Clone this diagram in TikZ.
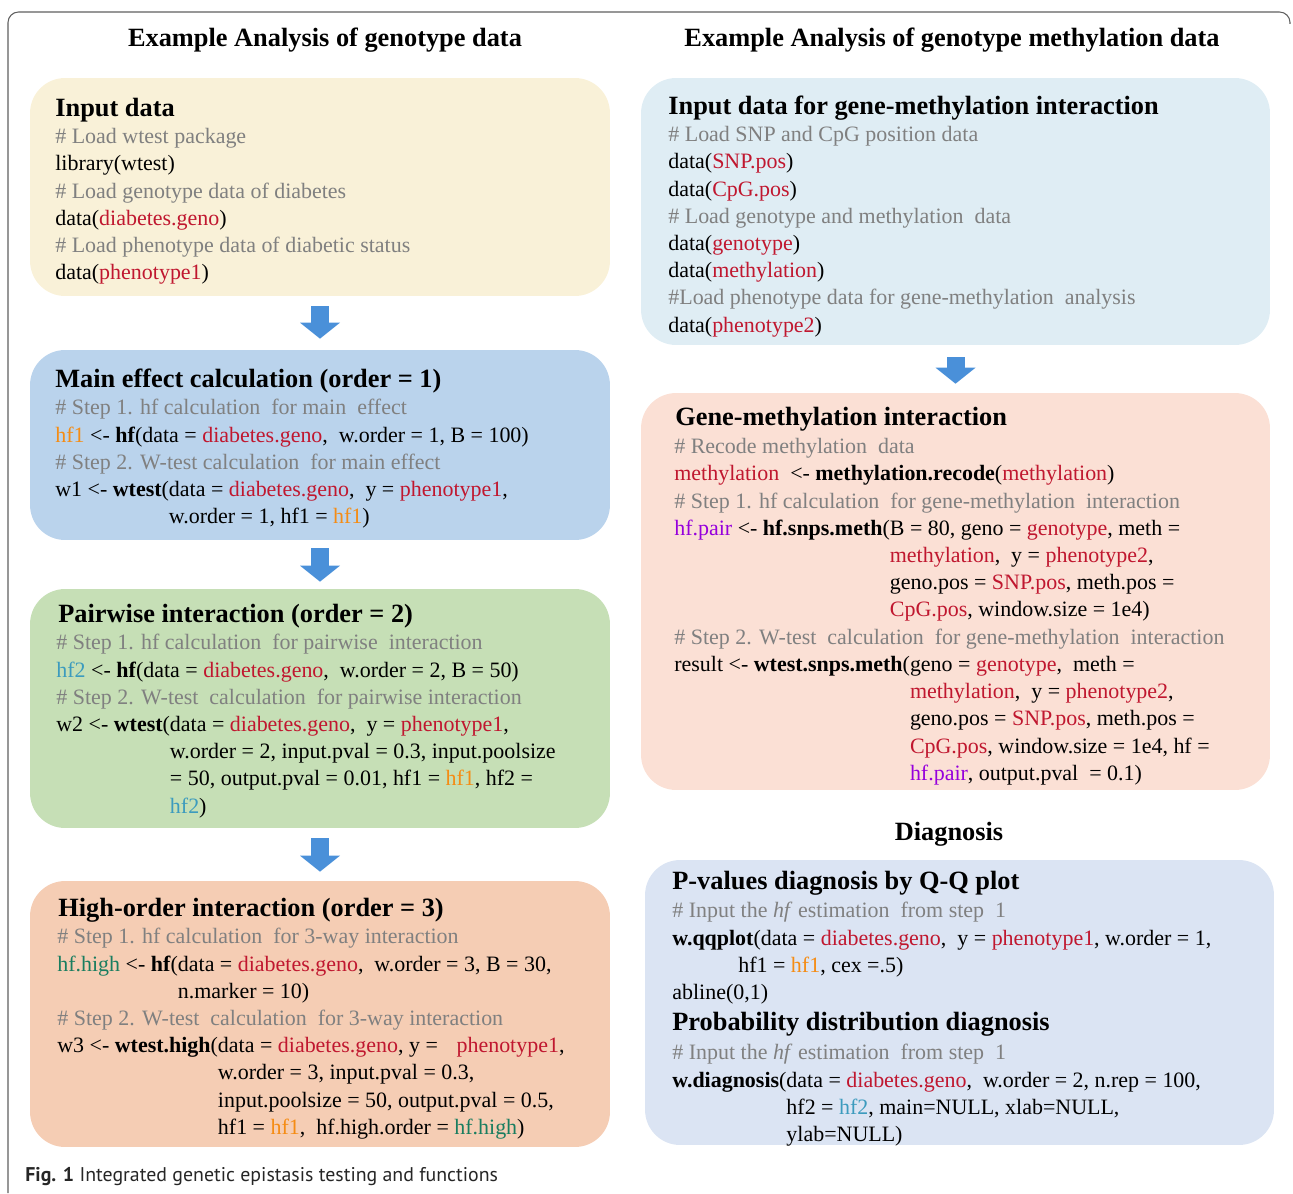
\documentclass[tikz,border=0pt]{standalone}
\usepackage{fontspec}
\setmainfont{Liberation Serif}
\newfontfamily\capfont{PT Sans}
\usepackage{tikz}
\usetikzlibrary{arrows.meta}
\definecolor{varred}{RGB}{192,23,47}
\definecolor{varorange}{RGB}{245,140,20}
\definecolor{varteal}{RGB}{60,155,190}
\definecolor{vargreen}{RGB}{25,125,95}
\definecolor{varpurple}{RGB}{150,0,220}
\definecolor{cmntgray}{RGB}{128,128,128}
\definecolor{arrowblue}{RGB}{74,144,217}
\definecolor{framegray}{RGB}{95,95,95}
\definecolor{inyellow}{RGB}{249,241,216}
\definecolor{mainblue}{RGB}{186,211,236}
\definecolor{pairgreen}{RGB}{198,223,182}
\definecolor{highorange}{RGB}{245,205,180}
\definecolor{methinblue}{RGB}{223,237,244}
\definecolor{methpink}{RGB}{251,224,213}
\definecolor{diaglilac}{RGB}{219,228,243}
\newcommand{\vred}[1]{\textcolor{varred}{#1}}
\newcommand{\vorg}[1]{\textcolor{varorange}{#1}}
\newcommand{\vteal}[1]{\textcolor{varteal}{#1}}
\newcommand{\vgrn}[1]{\textcolor{vargreen}{#1}}
\newcommand{\vpur}[1]{\textcolor{varpurple}{#1}}
\newcommand{\cmnt}[1]{\textcolor{cmntgray}{#1}}
\begin{document}
\begin{tikzpicture}[x=0.02cm,y=-0.02cm,
	code box/.style={rectangle,rounded corners=0.7cm,inner sep=0pt},
	left box/.style={code box,minimum width=11.6cm},
	right box/.style={code box,minimum width=12.58cm},
	box title/.style={anchor=base west,inner sep=0pt,font=\fontsize{15}{18}\selectfont\bfseries},
	code text/.style={anchor=north west,inner sep=0pt,align=left,font=\fontsize{12.5}{15.5}\selectfont,execute at begin node=\strut},
	head text/.style={anchor=base,inner sep=0pt,font=\fontsize{15}{18}\selectfont\bfseries},
	flow arrow/.style={draw=arrowblue,line width=0.36cm,-{Triangle[width=0.8cm,length=0.32cm,line width=0pt]}}]
	\useasboundingbox (0,0) rectangle (1293,1193);
	\draw[framegray,line width=0.6pt,rounded corners=6pt] (8,1193) -- (8,12) -- (1290,12) -- (1290,24);
	% column heads
	\node[head text] (lefthead) at (325,47) {Example Analysis of genotype data};
	\node[head text] (righthead) at (952,47) {Example Analysis of genotype methylation data};
	\node[head text] (diaghead) at (949,840) {Diagnosis};
	% genotype data
	\node[left box,fill=inyellow,minimum height=4.36cm] (inbox) at (320,187) {};
	\node[box title] (intitle) at (55,116) {Input data};
	\node[code text] (incode) at (55,128) {\cmnt{\# Load wtest package}\\
		library(wtest)\\
		\cmnt{\# Load genotype data of diabetes}\\
		data(\vred{diabetes.geno})\\
		\cmnt{\# Load phenotype data of diabetic status}\\
		data(\vred{phenotype1})};
	\node[left box,fill=mainblue,minimum height=3.8cm] (mainbox) at (320,445) {};
	\node[box title] (maintitle) at (55,387) {Main effect calculation (order = 1)};
	\node[code text] (maincode) at (55,399) {\cmnt{\# Step 1. hf calculation \ for main \ effect}\\
		\vorg{hf1} <- \textbf{hf}(data = \vred{diabetes.geno}, \ w.order = 1, B = 100)\\
		\cmnt{\# Step 2. W-test calculation \ for main effect}\\
		w1 <- \textbf{wtest}(data = \vred{diabetes.geno}, \ y = \vred{phenotype1},\\
		\phantom{w1 <- \textbf{wtest}(}w.order = 1, hf1 = \vorg{hf1})};
	\node[left box,fill=pairgreen,minimum height=4.78cm] (pairbox) at (320,708.5) {};
	\node[box title] (pairtitle) at (58,622) {Pairwise interaction (order = 2)};
	\node[code text] (paircode) at (56,634) {\cmnt{\# Step 1. hf calculation \ for pairwise \ interaction}\\
		\vteal{hf2} <- \textbf{hf}(data = \vred{diabetes.geno}, \ w.order = 2, B = 50)\\
		\cmnt{\# Step 2. W-test \ calculation \ for pairwise interaction}\\
		w2 <- \textbf{wtest}(data = \vred{diabetes.geno}, \ y = \vred{phenotype1},\\
		\phantom{w2 <- \textbf{wtest}(}w.order = 2, input.pval = 0.3, input.poolsize\\
		\phantom{w2 <- \textbf{wtest}(}= 50, output.pval = 0.01, hf1 = \vorg{hf1}, hf2 =\\
		\phantom{w2 <- \textbf{wtest}(}\vteal{hf2})};
	\node[left box,fill=highorange,minimum height=5.32cm] (highbox) at (320,1014) {};
	\node[box title] (hightitle) at (58,916) {High-order interaction (order = 3)};
	\node[code text] (highcode) at (57,928) {\cmnt{\# Step 1. hf calculation \ for 3-way interaction}\\
		\vgrn{hf.high} <- \textbf{hf}(data = \vred{diabetes.geno}, \ w.order = 3, B = 30,\\
		\phantom{\vgrn{hf.high} <- \textbf{hf}(}n.marker = 10)\\
		\cmnt{\# Step 2. W-test \ calculation \ for 3-way interaction}\\
		w3 <- \textbf{wtest.high}(data = \vred{diabetes.geno}, y = \hspace{0.6em}\vred{phenotype1},\\
		\phantom{w3 <- \textbf{wtest.high}(}w.order = 3, input.pval = 0.3,\\
		\phantom{w3 <- \textbf{wtest.high}(}input.poolsize = 50, output.pval = 0.5,\\
		\phantom{w3 <- \textbf{wtest.high}(}hf1 = \vorg{hf1}, \ hf.high.order = \vgrn{hf.high})};
	% genotype methylation data
	\node[right box,fill=methinblue,minimum height=5.34cm] (methinbox) at (955.5,211.5) {};
	\node[box title] (methintitle) at (668,114) {Input data for gene-methylation interaction};
	\node[code text] (methincode) at (668,126) {\cmnt{\# Load SNP and CpG position data}\\
		data(\vred{SNP.pos})\\
		data(\vred{CpG.pos})\\
		\cmnt{\# Load genotype and methylation \ data}\\
		data(\vred{genotype})\\
		data(\vred{methylation})\\
		\cmnt{\#Load phenotype data for gene-methylation \ analysis}\\
		data(\vred{phenotype2})};
	\node[right box,fill=methpink,minimum height=7.94cm] (methbox) at (955.5,591.5) {};
	\node[box title] (methtitle) at (675,425) {Gene-methylation interaction};
	\node[code text] (methcode) at (674,438) {\cmnt{\# Recode methylation \ data}\\
		\vred{methylation} \ <- \textbf{methylation.recode}(\vred{methylation})\\
		\cmnt{\# Step 1. hf calculation \ for gene-methylation \ interaction}\\
		\vpur{hf.pair} <- \textbf{hf.snps.meth}(B = 80, geno = \vred{genotype}, meth =\\
		\phantom{\vpur{hf.pair} <- \textbf{hf.snps.meth}(}\vred{methylation}, \ y = \vred{phenotype2},\\
		\phantom{\vpur{hf.pair} <- \textbf{hf.snps.meth}(}geno.pos = \vred{SNP.pos}, meth.pos =\\
		\phantom{\vpur{hf.pair} <- \textbf{hf.snps.meth}(}\vred{CpG.pos}, window.size = 1e4)\\
		\cmnt{\# Step 2. W-test \ calculation \ for gene-methylation \ interaction}\\
		result <- \textbf{wtest.snps.meth}(geno = \vred{genotype}, \ meth =\\
		\phantom{result <- \textbf{wtest.snps.meth}(}\vred{methylation}, \ y = \vred{phenotype2},\\
		\phantom{result <- \textbf{wtest.snps.meth}(}geno.pos = \vred{SNP.pos}, meth.pos =\\
		\phantom{result <- \textbf{wtest.snps.meth}(}\vred{CpG.pos}, window.size = 1e4, hf =\\
		\phantom{result <- \textbf{wtest.snps.meth}(}\vpur{hf.pair}, output.pval \ = 0.1)};
	% diagnosis
	\node[right box,fill=diaglilac,minimum height=5.7cm] (diagbox) at (959.5,1002.5) {};
	\node[box title] (qqtitle) at (672,889) {P-values diagnosis by Q-Q plot};
	\node[code text] (qqcode) at (672,902) {\cmnt{\# Input the \textit{hf} estimation \ from step \ 1}\\
		\textbf{w.qqplot}(data = \vred{diabetes.geno}, \ y = \vred{phenotype1}, w.order = 1,\\
		\hspace*{1.32cm}hf1 = \vorg{hf1}, cex =.5)\\
		abline(0,1)};
	\node[box title] (probtitle) at (672,1030) {Probability distribution diagnosis};
	\node[code text] (probcode) at (672,1044) {\cmnt{\# Input the \textit{hf} estimation \ from step \ 1}\\
		\textbf{w.diagnosis}(data = \vred{diabetes.geno}, \ w.order = 2, n.rep = 100,\\
		\phantom{\textbf{w.diagnosis}(}hf2 = \vteal{hf2}, main=NULL, xlab=NULL,\\
		\phantom{\textbf{w.diagnosis}(}ylab=NULL)};
	% block arrows
	\draw[flow arrow,shorten <=0.2cm,shorten >=0.22cm] (inbox) -- (mainbox);
	\draw[flow arrow,shorten <=0.16cm,shorten >=0.14cm] (mainbox) -- (pairbox);
	\draw[flow arrow,shorten <=0.2cm,shorten >=0.18cm] (pairbox) -- (highbox);
	\draw[flow arrow,shorten <=0.24cm,shorten >=0.18cm] (methinbox) -- (methbox);
	% caption
	\node[anchor=base west,inner sep=0pt,font=\capfont\fontsize{11.3}{13}\selectfont,text=black!85] (caption) at (25,1181) {\textbf{Fig. 1} Integrated genetic epistasis testing and functions};
\end{tikzpicture}
\end{document}
